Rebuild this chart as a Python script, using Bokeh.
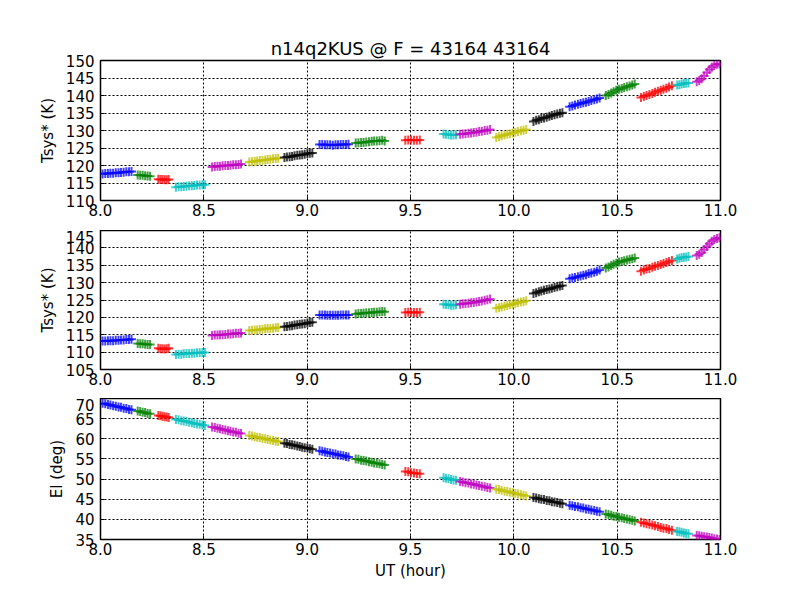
from bokeh.embed import file_html
from bokeh.layouts import column
from bokeh.models import FixedTicker, PrintfTickFormatter, Range1d
from bokeh.plotting import figure
from bokeh.resources import INLINE

# UT (hour) of each scan segment
seg_ut = [
    [8.010, 8.023, 8.036, 8.048, 8.061, 8.074, 8.087, 8.099, 8.112, 8.125, 8.138, 8.150],
    [8.180, 8.192, 8.204, 8.216, 8.228, 8.240],
    [8.280, 8.290, 8.300, 8.310, 8.320, 8.330],
    [8.365, 8.378, 8.391, 8.403, 8.416, 8.429, 8.442, 8.454, 8.467, 8.480, 8.493, 8.505],
    [8.540, 8.553, 8.566, 8.578, 8.591, 8.604, 8.617, 8.629, 8.642, 8.655, 8.668, 8.680],
    [8.720, 8.733, 8.746, 8.758, 8.771, 8.784, 8.797, 8.809, 8.822, 8.835, 8.848, 8.860],
    [8.890, 8.902, 8.915, 8.927, 8.939, 8.952, 8.964, 8.976, 8.988, 9.001, 9.013, 9.025],
    [9.060, 9.073, 9.086, 9.098, 9.111, 9.124, 9.137, 9.149, 9.162, 9.175, 9.188, 9.200],
    [9.235, 9.248, 9.261, 9.273, 9.286, 9.299, 9.312, 9.324, 9.337, 9.350, 9.363, 9.375],
    [9.475, 9.489, 9.503, 9.517, 9.531, 9.545],
    [9.660, 9.672, 9.684, 9.696, 9.708, 9.720],
    [9.740, 9.753, 9.766, 9.780, 9.793, 9.806, 9.819, 9.832, 9.845, 9.859, 9.872, 9.885],
    [9.915, 9.928, 9.941, 9.955, 9.968, 9.981, 9.994, 10.007, 10.020, 10.034, 10.047, 10.060],
    [10.095, 10.108, 10.121, 10.133, 10.146, 10.159, 10.172, 10.184, 10.197, 10.210, 10.223, 10.235],
    [10.270, 10.283, 10.296, 10.310, 10.323, 10.336, 10.349, 10.362, 10.375, 10.389, 10.402, 10.415],
    [10.445, 10.458, 10.471, 10.483, 10.496, 10.509, 10.522, 10.534, 10.547, 10.560, 10.573, 10.585],
    [10.615, 10.629, 10.642, 10.656, 10.670, 10.683, 10.697, 10.711, 10.724, 10.738, 10.751, 10.765],
    [10.790, 10.801, 10.812, 10.823, 10.834, 10.845],
    [10.885, 10.897, 10.909, 10.921, 10.934, 10.946, 10.958, 10.970, 10.983, 10.995],
]

# Tsys* (K), top panel
tsys_top = [
    [117.6, 117.7, 117.7, 117.8, 117.8, 117.9, 117.9, 118.0, 118.1, 118.2, 118.2, 118.3],
    [117.3, 117.2, 117.2, 117.1, 117.0, 116.9],
    [116.1, 116.0, 116.0, 115.9, 115.9, 116.0],
    [113.8, 113.9, 113.9, 114.0, 114.1, 114.2, 114.2, 114.3, 114.4, 114.4, 114.5, 114.5],
    [119.6, 119.7, 119.8, 119.8, 119.9, 120.0, 120.0, 120.1, 120.2, 120.2, 120.3, 120.4],
    [121.0, 121.1, 121.2, 121.3, 121.4, 121.5, 121.6, 121.7, 121.8, 121.9, 122.0, 122.1],
    [122.3, 122.4, 122.5, 122.6, 122.8, 122.9, 123.0, 123.1, 123.2, 123.4, 123.5, 123.6],
    [126.0, 126.0, 125.9, 125.9, 125.9, 125.8, 125.9, 125.9, 126.0, 126.0, 126.0, 126.1],
    [126.4, 126.5, 126.6, 126.6, 126.7, 126.8, 126.9, 127.0, 127.0, 127.1, 127.2, 127.0],
    [127.2, 127.3, 127.3, 127.2, 127.2, 127.3],
    [129.0, 128.9, 128.8, 128.7, 128.7, 128.8],
    [128.9, 129.0, 129.1, 129.2, 129.3, 129.4, 129.5, 129.7, 129.8, 130.0, 130.1, 130.3],
    [128.0, 128.2, 128.5, 128.7, 128.9, 129.1, 129.3, 129.5, 129.7, 129.9, 130.1, 130.3],
    [132.6, 132.9, 133.1, 133.4, 133.6, 133.8, 134.1, 134.3, 134.5, 134.7, 134.9, 135.1],
    [136.8, 137.0, 137.3, 137.5, 137.7, 137.9, 138.1, 138.3, 138.6, 138.8, 139.0, 139.3],
    [140.0, 140.3, 140.7, 141.1, 141.5, 141.8, 142.0, 142.3, 142.5, 142.7, 143.0, 143.3],
    [139.4, 139.7, 140.0, 140.3, 140.6, 140.9, 141.2, 141.5, 141.8, 142.1, 142.4, 142.8],
    [143.0, 143.1, 143.3, 143.4, 143.5, 143.6],
    [143.9, 144.3, 144.8, 145.6, 146.6, 147.4, 148.1, 148.6, 148.9, 149.0],
]

# Tsys* (K), middle panel
tsys_mid = [
    [113.2, 113.2, 113.3, 113.3, 113.3, 113.4, 113.4, 113.5, 113.5, 113.6, 113.6, 113.7],
    [112.5, 112.4, 112.4, 112.3, 112.2, 112.2],
    [111.1, 111.0, 111.0, 110.9, 111.0, 111.1],
    [109.3, 109.4, 109.4, 109.5, 109.6, 109.6, 109.7, 109.7, 109.8, 109.8, 109.9, 109.9],
    [114.8, 114.9, 114.9, 115.0, 115.0, 115.1, 115.2, 115.2, 115.3, 115.4, 115.4, 115.5],
    [116.2, 116.3, 116.4, 116.4, 116.5, 116.6, 116.7, 116.8, 116.8, 116.9, 117.0, 117.1],
    [117.3, 117.4, 117.5, 117.6, 117.8, 117.9, 118.0, 118.1, 118.2, 118.4, 118.5, 118.6],
    [120.7, 120.7, 120.7, 120.6, 120.6, 120.6, 120.6, 120.6, 120.7, 120.7, 120.7, 120.7],
    [121.0, 121.1, 121.1, 121.2, 121.3, 121.3, 121.4, 121.5, 121.5, 121.6, 121.7, 121.6],
    [121.4, 121.5, 121.5, 121.4, 121.4, 121.5],
    [123.8, 123.7, 123.6, 123.5, 123.5, 123.6],
    [123.8, 123.9, 124.0, 124.1, 124.2, 124.3, 124.4, 124.6, 124.7, 124.9, 125.1, 125.3],
    [122.6, 122.8, 123.0, 123.2, 123.4, 123.6, 123.8, 124.0, 124.2, 124.4, 124.6, 124.8],
    [126.9, 127.1, 127.4, 127.6, 127.8, 128.0, 128.2, 128.4, 128.6, 128.8, 129.0, 129.2],
    [131.1, 131.3, 131.5, 131.7, 131.9, 132.1, 132.3, 132.6, 132.8, 133.0, 133.3, 133.6],
    [134.2, 134.5, 134.9, 135.3, 135.6, 135.9, 136.1, 136.3, 136.5, 136.7, 136.9, 137.1],
    [133.3, 133.6, 133.9, 134.1, 134.4, 134.7, 134.9, 135.2, 135.5, 135.8, 136.1, 136.4],
    [136.8, 137.0, 137.2, 137.3, 137.4, 137.5],
    [137.8, 138.2, 138.7, 139.5, 140.4, 141.2, 141.9, 142.4, 142.7, 142.9],
]

# elevation (deg), bottom panel
elev = [
    [68.8, 68.7, 68.5, 68.4, 68.2, 68.1, 67.9, 67.8, 67.6, 67.5, 67.3, 67.2],
    [66.9, 66.8, 66.6, 66.5, 66.3, 66.2],
    [65.8, 65.7, 65.6, 65.5, 65.4, 65.3],
    [64.8, 64.7, 64.5, 64.4, 64.3, 64.1, 64.0, 63.8, 63.7, 63.6, 63.4, 63.3],
    [62.9, 62.8, 62.6, 62.5, 62.3, 62.2, 62.0, 61.9, 61.7, 61.6, 61.4, 61.3],
    [60.8, 60.7, 60.5, 60.4, 60.3, 60.1, 60.0, 59.8, 59.7, 59.6, 59.4, 59.3],
    [58.9, 58.8, 58.6, 58.5, 58.4, 58.2, 58.1, 57.9, 57.8, 57.7, 57.5, 57.4],
    [57.0, 56.9, 56.7, 56.6, 56.5, 56.3, 56.2, 56.0, 55.9, 55.8, 55.6, 55.5],
    [55.0, 54.9, 54.7, 54.6, 54.5, 54.3, 54.2, 54.0, 53.9, 53.8, 53.6, 53.5],
    [51.9, 51.8, 51.6, 51.5, 51.4, 51.3],
    [50.3, 50.2, 50.1, 49.9, 49.8, 49.7],
    [49.4, 49.3, 49.1, 49.0, 48.8, 48.7, 48.5, 48.4, 48.2, 48.1, 47.9, 47.8],
    [47.5, 47.4, 47.2, 47.0, 46.9, 46.7, 46.6, 46.4, 46.3, 46.1, 46.0, 45.8],
    [45.4, 45.3, 45.1, 45.0, 44.9, 44.7, 44.6, 44.4, 44.3, 44.2, 44.0, 43.9],
    [43.5, 43.4, 43.2, 43.1, 42.9, 42.8, 42.6, 42.5, 42.3, 42.2, 42.0, 41.9],
    [41.3, 41.2, 41.0, 40.8, 40.7, 40.5, 40.4, 40.2, 40.1, 39.9, 39.8, 39.6],
    [39.3, 39.1, 38.9, 38.8, 38.6, 38.4, 38.2, 38.0, 37.8, 37.7, 37.5, 37.3],
    [37.0, 36.9, 36.8, 36.6, 36.5, 36.4],
    [36.0, 35.9, 35.8, 35.7, 35.6, 35.5, 35.4, 35.2, 35.1, 35.0],
]

cycle = ["#0000ff", "#008000", "#ff0000", "#00bfbf", "#bf00bf", "#bfbf00", "#000000"]
x_ticks = [8.0, 8.5, 9.0, 9.5, 10.0, 10.5, 11.0]
title = "n14q2KUS @ F = 43164 43164"
FONT = "DejaVu Sans"


def make_panel(values, y_lo, y_hi, y_label, frame_h, top, bottom, x_label=None):
    p = figure(
        frame_width=620,
        frame_height=frame_h,
        min_border_left=100,
        min_border_right=72,
        min_border_top=top,
        min_border_bottom=bottom,
        x_range=Range1d(8.0, 11.0),
        y_range=Range1d(y_lo, y_hi),
        output_backend="svg",
        toolbar_location=None,
    )
    for i, (xs, ys) in enumerate(zip(seg_ut, values)):
        p.scatter(xs, ys, marker="cross", size=9, line_width=2,
                  line_color=cycle[i % len(cycle)], line_alpha=0.75)

    p.xaxis.ticker = FixedTicker(ticks=x_ticks)
    p.xaxis.formatter = PrintfTickFormatter(format="%.1f")
    p.yaxis.ticker = FixedTicker(ticks=list(range(y_lo, y_hi + 1, 5)))
    p.xgrid.ticker = p.xaxis.ticker
    p.ygrid.ticker = p.yaxis.ticker

    for ax in (p.xaxis[0], p.yaxis[0]):
        ax.axis_line_color = None
        ax.major_tick_in = 4
        ax.major_tick_out = 0
        ax.minor_tick_line_color = None
        ax.major_label_text_font = FONT
        ax.major_label_text_font_size = "15px"
        ax.major_label_text_color = "black"
        ax.axis_label_text_font = FONT
        ax.axis_label_text_font_size = "15px"
        ax.axis_label_text_font_style = "normal"
        ax.axis_label_text_color = "black"
    p.yaxis.major_label_standoff = 6
    p.yaxis.axis_label_standoff = 6
    p.xaxis.major_label_standoff = 3
    p.xaxis.axis_label_standoff = 4
    p.yaxis.axis_label = y_label
    if x_label:
        p.xaxis.axis_label = x_label

    for g in (p.xgrid[0], p.ygrid[0]):
        g.grid_line_color = "black"
        g.grid_line_dash = "2 2"
        g.grid_line_width = 1
        g.grid_line_alpha = 1

    p.outline_line_color = "black"
    p.outline_line_width = 1.5
    p.outline_line_alpha = 1
    p.background_fill_color = "white"
    p.border_fill_color = "white"
    return p


p1 = make_panel(tsys_top, 110, 150, "Tsys* (K)", 140, 60, 30)
p1.title.text = title
p1.title.align = "center"
p1.title.text_font = FONT
p1.title.text_font_size = "18px"
p1.title.text_font_style = "normal"
p1.title.text_color = "black"
p1.title.standoff = 4

p2 = make_panel(tsys_mid, 105, 145, "Tsys* (K)", 139, 0, 29)
p3 = make_panel(elev, 35, 70, "El (deg)", 141, 0, 45, x_label="UT (hour)")

p = column(p1, p2, p3, spacing=0)

open("out.html", "w").write(file_html(p, INLINE))
